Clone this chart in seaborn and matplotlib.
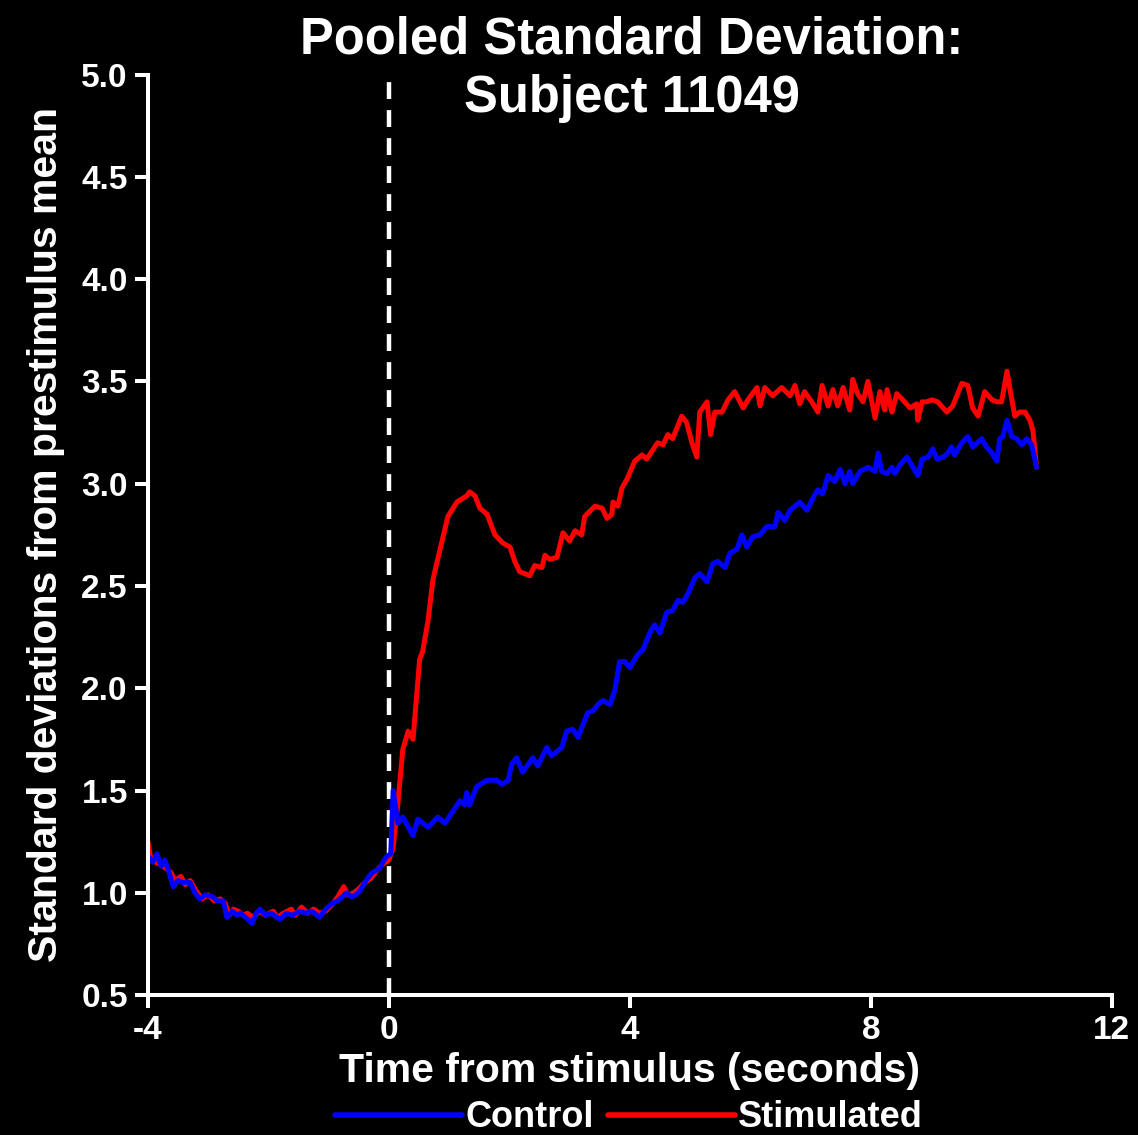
import matplotlib
matplotlib.use("Agg")
import matplotlib.pyplot as plt
import matplotlib.font_manager as fm
import seaborn as sns
import pandas as pd
from matplotlib.lines import Line2D

# ---------------- data ----------------
time_ctrl = [-4.00, -3.92, -3.85, -3.78, -3.72, -3.65, -3.58, -3.50, -3.42, -3.30,
             -3.22, -3.14, -3.05, -2.92, -2.85, -2.75, -2.69, -2.60, -2.52, -2.47,
             -2.38, -2.27, -2.20, -2.14, -2.05, -1.95, -1.81, -1.70, -1.60, -1.48,
             -1.38, -1.28, -1.15, -1.05, -0.93, -0.85, -0.70, -0.62, -0.55, -0.48,
             -0.40, -0.33, -0.27, -0.15, -0.08, -0.03, 0.03, 0.07,
             0.15, 0.23, 0.40, 0.48, 0.65, 0.81, 0.93, 1.18, 1.26, 1.29, 1.34, 1.46,
             1.63, 1.79, 1.88, 1.98, 2.04, 2.12, 2.22, 2.39, 2.47, 2.62, 2.70, 2.87,
             2.95, 3.05, 3.14, 3.22, 3.30, 3.39, 3.47, 3.55, 3.67, 3.75, 3.83, 3.92,
             4.00, 4.12, 4.22, 4.33, 4.41, 4.50, 4.61, 4.71, 4.80, 4.88, 4.96, 5.08,
             5.16, 5.28, 5.38, 5.46, 5.58, 5.66, 5.78, 5.86, 5.94, 6.04, 6.16, 6.27,
             6.41, 6.46, 6.57, 6.66, 6.82, 6.94, 7.04, 7.12, 7.20, 7.29, 7.40, 7.49,
             7.57, 7.65, 7.70, 7.82, 7.95, 8.07, 8.12, 8.18, 8.27, 8.35, 8.40, 8.48,
             8.60, 8.68, 8.78, 8.85, 8.95, 9.03, 9.10, 9.20, 9.28, 9.34, 9.39, 9.51,
             9.61, 9.69, 9.84, 9.92, 10.01, 10.09, 10.14, 10.19, 10.26, 10.34, 10.42,
             10.51, 10.59, 10.67, 10.75]
sd_ctrl = [1.18, 1.15, 1.19, 1.13, 1.16, 1.10, 1.03, 1.06, 1.05, 1.05,
           1.00, 0.97, 0.99, 0.98, 0.96, 0.96, 0.88, 0.91, 0.89, 0.90,
           0.88, 0.85, 0.90, 0.92, 0.89, 0.90, 0.87, 0.90, 0.89, 0.91,
           0.90, 0.91, 0.88, 0.92, 0.95, 0.96, 1.00, 0.98, 0.99, 1.01,
           1.05, 1.08, 1.10, 1.12, 1.16, 1.18, 1.19, 1.50,
           1.34, 1.37, 1.28, 1.36, 1.32, 1.37, 1.34, 1.45, 1.43, 1.49, 1.43, 1.52,
           1.55, 1.55, 1.53, 1.55, 1.63, 1.66, 1.59, 1.66, 1.62, 1.71, 1.67, 1.71,
           1.79, 1.80, 1.76, 1.82, 1.88, 1.89, 1.92, 1.94, 1.92, 1.99, 2.13, 2.13,
           2.10, 2.16, 2.19, 2.27, 2.31, 2.27, 2.37, 2.38, 2.43, 2.42, 2.46, 2.54,
           2.56, 2.52, 2.61, 2.62, 2.59, 2.66, 2.68, 2.75, 2.69, 2.74, 2.75, 2.79,
           2.79, 2.86, 2.82, 2.87, 2.91, 2.87, 2.93, 2.97, 2.95, 3.04, 3.01, 3.07,
           3.00, 3.06, 3.00, 3.06, 3.08, 3.06, 3.15, 3.06, 3.05, 3.08, 3.05, 3.09,
           3.13, 3.09, 3.04, 3.12, 3.13, 3.17, 3.12, 3.13, 3.15, 3.18, 3.14, 3.20,
           3.23, 3.18, 3.22, 3.18, 3.15, 3.11, 3.22, 3.23, 3.31, 3.23, 3.22,
           3.19, 3.22, 3.19, 3.08]

time_stim = [-4.00, -3.95, -3.88, -3.80, -3.70, -3.62, -3.55, -3.45, -3.38, -3.30,
             -3.20, -3.10, -3.00, -2.90, -2.80, -2.72, -2.65, -2.58, -2.50, -2.42,
             -2.35, -2.25, -2.15, -2.05, -1.92, -1.85, -1.75, -1.62, -1.55, -1.45,
             -1.35, -1.25, -1.15, -1.05, -0.95, -0.85, -0.75, -0.68, -0.58, -0.50,
             -0.40, -0.30, -0.20, -0.10, 0.00, 0.07,
             0.15, 0.23, 0.32, 0.40, 0.51, 0.56, 0.65, 0.73, 0.85, 0.98, 1.13, 1.29,
             1.34, 1.43, 1.51, 1.63, 1.76, 1.89, 2.01, 2.09, 2.17, 2.34, 2.42, 2.54,
             2.59, 2.67, 2.79, 2.89, 3.00, 3.09, 3.20, 3.25, 3.42, 3.54, 3.62, 3.70,
             3.72, 3.80, 3.87, 3.95, 4.08, 4.20, 4.28, 4.37, 4.46, 4.55, 4.63, 4.71,
             4.86, 4.94, 5.03, 5.11, 5.16, 5.28, 5.34, 5.41, 5.53, 5.63, 5.74, 5.88,
             5.96, 6.11, 6.16, 6.24, 6.37, 6.52, 6.66, 6.74, 6.82, 6.90, 7.02, 7.12,
             7.19, 7.29, 7.37, 7.45, 7.54, 7.65, 7.70, 7.78, 7.87, 7.95, 8.07, 8.15,
             8.23, 8.27, 8.35, 8.43, 8.53, 8.65, 8.76, 8.78, 8.85, 8.93, 9.01, 9.11,
             9.26, 9.36, 9.51, 9.61, 9.69, 9.78, 9.89, 10.01, 10.09, 10.17, 10.26,
             10.31, 10.39, 10.47, 10.56, 10.64, 10.69, 10.75]
sd_stim = [1.25, 1.16, 1.15, 1.14, 1.12, 1.10, 1.06, 1.08, 1.04, 1.06,
           1.01, 0.97, 0.99, 0.96, 0.97, 0.95, 0.89, 0.92, 0.91, 0.89,
           0.90, 0.88, 0.91, 0.89, 0.91, 0.88, 0.90, 0.92, 0.89, 0.93,
           0.90, 0.92, 0.90, 0.91, 0.94, 0.98, 1.03, 0.99, 1.00, 1.02,
           1.05, 1.07, 1.11, 1.14, 1.16, 1.22,
           1.44, 1.70, 1.79, 1.75, 2.14, 2.18, 2.33, 2.53, 2.68, 2.84, 2.91, 2.94,
           2.96, 2.94, 2.88, 2.85, 2.75, 2.71, 2.69, 2.62, 2.57, 2.55, 2.60, 2.59,
           2.65, 2.63, 2.64, 2.76, 2.72, 2.77, 2.75, 2.84, 2.89, 2.88, 2.83, 2.85,
           2.91, 2.89, 2.98, 3.02, 3.11, 3.14, 3.12, 3.16, 3.20, 3.19, 3.24, 3.22,
           3.33, 3.30, 3.20, 3.13, 3.35, 3.40, 3.24, 3.35, 3.35, 3.41, 3.45, 3.37,
           3.41, 3.47, 3.38, 3.47, 3.43, 3.47, 3.43, 3.48, 3.39, 3.45, 3.40, 3.35,
           3.48, 3.38, 3.46, 3.38, 3.47, 3.36, 3.51, 3.44, 3.40, 3.50, 3.32, 3.45,
           3.36, 3.46, 3.35, 3.44, 3.41, 3.37, 3.39, 3.31, 3.40, 3.40, 3.41, 3.40,
           3.35, 3.38, 3.49, 3.48, 3.37, 3.33, 3.45, 3.41, 3.40, 3.40, 3.55,
           3.46, 3.33, 3.35, 3.35, 3.31, 3.26, 3.08]

x_ticks = [-4, 0, 4, 8, 12]
y_ticks = [0.5, 1.0, 1.5, 2.0, 2.5, 3.0, 3.5, 4.0, 4.5, 5.0]
series_names = ["Control", "Stimulated"]
series_colors = {"Control": "#0000ff", "Stimulated": "#ff0000"}

title_text = "Pooled Standard Deviation:\nSubject 11049"
x_label = "Time from stimulus (seconds)"
y_label = "Standard deviations from prestimulus mean"

# ---------------- style ----------------
sns.set_theme(style="ticks")
plt.rcParams["font.family"] = ["Liberation Sans", "DejaVu Sans"]
plt.rcParams["font.weight"] = "bold"

names = {f.name for f in fm.fontManager.ttflist}
narrow = "Liberation Sans Narrow" if "Liberation Sans Narrow" in names else "Liberation Sans"

df_ctrl = pd.DataFrame({"time": time_ctrl, "sd": sd_ctrl, "group": "Control"})
df_stim = pd.DataFrame({"time": time_stim, "sd": sd_stim, "group": "Stimulated"})

fig = plt.figure(figsize=(11.38, 11.35), dpi=100, facecolor="black")
ax = fig.add_axes([0.130, 0.1233, 0.847, 0.811])
ax.set_facecolor("black")

sns.lineplot(data=df_stim, x="time", y="sd", color=series_colors["Stimulated"],
             linewidth=3.6, ax=ax, estimator=None, sort=False)
sns.lineplot(data=df_ctrl, x="time", y="sd", color=series_colors["Control"],
             linewidth=3.6, ax=ax, estimator=None, sort=False)

ax.axvline(0, color="white", linestyle=(0, (3.8, 2.5)), linewidth=3.2, zorder=1)

ax.set_xlim(-4, 12)
ax.set_ylim(0.5, 5.0)
ax.set_xticks(x_ticks)
ax.set_xticklabels([str(t) for t in x_ticks])
ax.set_yticks(y_ticks)
ax.set_yticklabels([f"{t:.1f}" for t in y_ticks])

for side in ["top", "right"]:
    ax.spines[side].set_visible(False)
for side in ["left", "bottom"]:
    ax.spines[side].set_color("white")
    ax.spines[side].set_linewidth(2.9)

ax.tick_params(axis="both", colors="white", direction="out", length=9.5, width=2.9,
               labelsize=24, pad=5)
for lab in ax.get_xticklabels() + ax.get_yticklabels():
    lab.set_fontweight("bold")
    lab.set_fontfamily(["Liberation Sans", "DejaVu Sans"])

ax.set_xlabel(x_label, color="white", fontsize=29.5, fontweight="bold",
              family=[narrow, "DejaVu Sans"], labelpad=4)
ax.set_ylabel(y_label, color="white", fontsize=29.5, fontweight="bold",
              family=[narrow, "DejaVu Sans"], labelpad=12)

fig.text(0.555, 0.986, title_text, color="white", fontsize=36.5, fontweight="bold",
         ha="center", va="top", linespacing=1.25,
         family=["Liberation Sans", "DejaVu Sans"])

handles = [Line2D([0], [0], color=series_colors[n], linewidth=4) for n in series_names]
leg = fig.legend(handles, series_names, loc="lower center", bbox_to_anchor=(0.553, -0.029),
                 ncol=2, frameon=False, handlelength=3.5, handletextpad=0.1,
                 columnspacing=0.4, prop={"family": narrow, "weight": "bold", "size": 26})
for t in leg.get_texts():
    t.set_color("white")

fig.savefig("out.png", dpi=100, facecolor="black")
